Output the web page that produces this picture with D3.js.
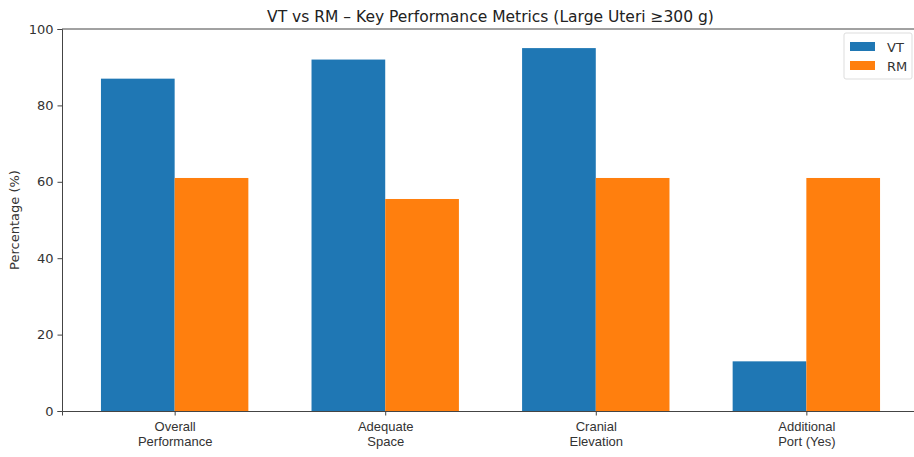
<!DOCTYPE html>
<html>
<head>
<meta charset="utf-8">
<script src="https://cdn.jsdelivr.net/npm/d3@7"></script>
<style>
	body { margin: 0; background: #fff; overflow: hidden; }
	svg { display: block; font-family: "DejaVu Sans", sans-serif; }
</style>
</head>
<body>
<script>
const categories = [
	["Overall", "Performance"],
	["Adequate", "Space"],
	["Cranial", "Elevation"],
	["Additional", "Port (Yes)"],
];
const seriesNames = ["VT", "RM"];
const vtValues = [87, 92, 95, 13];
const rmValues = [61, 55.5, 61, 61];
const yTicks = [0, 20, 40, 60, 80, 100];

const svgWidth = 914;
const svgHeight = 457;
const margin = { left: 62, right: -5, top: 29, bottom: 46 };

const svg = d3
	.select("body")
	.append("svg")
	.attr("width", svgWidth)
	.attr("height", svgHeight);

const colorScale = d3
	.scaleOrdinal()
	.domain(seriesNames)
	.range(["#1f77b4", "#ff7f0e"]);

// matplotlib style x: bar centres at 0..3, width 0.35, 5% margins
const barWidth = 0.35;
const xMin = -barWidth - 0.185;
const xMax = categories.length - 1 + barWidth + 0.185;
const xScale = d3
	.scaleLinear()
	.domain([xMin, xMax])
	.range([margin.left, svgWidth - margin.right]);

const yScale = d3
	.scaleLinear()
	.domain([0, 100])
	.range([svgHeight - margin.bottom, margin.top]);

const rows = categories.map((c, i) => ({
	index: i,
	values: [
		{ series: "VT", value: vtValues[i], offset: -barWidth },
		{ series: "RM", value: rmValues[i], offset: 0 },
	],
}));

// bars
svg
	.append("g")
	.selectAll("g")
	.data(rows)
	.join("g")
	.selectAll("rect")
	.data((d) => d.values.map((v) => ({ ...v, index: d.index })))
	.join("rect")
	.attr("x", (d) => xScale(d.index + d.offset))
	.attr("width", (d) => xScale(d.index + d.offset + barWidth) - xScale(d.index + d.offset))
	.attr("y", (d) => yScale(d.value))
	.attr("height", (d) => yScale(0) - yScale(d.value))
	.attr("fill", (d) => colorScale(d.series));

// axes
const yAxis = svg
	.append("g")
	.attr("transform", `translate(${margin.left} 0)`)
	.call(d3.axisLeft(yScale).tickValues(yTicks).tickSize(4.5).tickPadding(4));

const xAxis = svg
	.append("g")
	.attr("transform", `translate(0 ${yScale(0)})`)
	.call(
		d3
			.axisBottom(xScale)
			.tickValues(d3.range(categories.length))
			.tickSize(4.5)
			.tickFormat("")
	);

[yAxis, xAxis].forEach((ax) => {
	ax.select(".domain").attr("stroke", "#444").attr("stroke-width", 1);
	ax.selectAll(".tick line").attr("stroke", "#444").attr("stroke-width", 1);
	ax.selectAll("text").attr("fill", "#333").style("font-size", "13px").style("font-family", "DejaVu Sans");
});

// top spine
svg
	.append("line")
	.attr("x1", margin.left)
	.attr("x2", svgWidth)
	.attr("y1", yScale(100))
	.attr("y2", yScale(100))
	.attr("stroke", "#444")
	.attr("stroke-width", 1);

// two-line category labels
xAxis
	.selectAll(".tick")
	.append("text")
	.attr("fill", "#333")
	.attr("text-anchor", "middle")
	.style("font-size", "13px")
	.selectAll("tspan")
	.data((d) => categories[d])
	.join("tspan")
	.attr("x", 0)
	.attr("y", (d, i) => 20 + i * 14.5)
	.text((d) => d);

// title
svg
	.append("text")
	.attr("x", (margin.left + xScale(xMax)) / 2)
	.attr("y", 22)
	.attr("text-anchor", "middle")
	.attr("fill", "#222")
	.style("font-size", "15.5px")
	.text("VT vs RM \u2013 Key Performance Metrics (Large Uteri \u2265300 g)");

// y label
svg
	.append("text")
	.attr("transform", `translate(19 ${(yScale(0) + yScale(100)) / 2}) rotate(-90)`)
	.attr("text-anchor", "middle")
	.attr("fill", "#333")
	.style("font-size", "13px")
	.text("Percentage (%)");

// legend
const legend = svg.append("g").attr("transform", "translate(844 33)");
legend
	.append("rect")
	.attr("width", 68)
	.attr("height", 46)
	.attr("rx", 2)
	.attr("fill", "#fff")
	.attr("fill-opacity", 0.8)
	.attr("stroke", "#ddd");

seriesNames.forEach((name, i) => {
	const row = legend.append("g").attr("transform", `translate(6 ${9 + i * 19})`);
	row
		.append("rect")
		.attr("width", 25)
		.attr("height", 9)
		.attr("fill", colorScale(name));
	row
		.append("text")
		.attr("x", 37)
		.attr("y", 9.5)
		.attr("fill", "#333")
		.style("font-size", "13px")
		.text(name);
});
</script>
</body>
</html>
